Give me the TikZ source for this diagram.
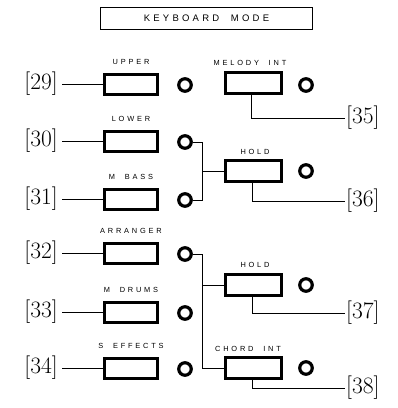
\documentclass[tikz,border=0pt]{standalone}
\usepackage{fontspec}
\newfontfamily\labfont[LetterSpace=38]{Liberation Sans}
\newfontfamily\ttlfont[LetterSpace=34]{Liberation Sans}
\begin{document}
\begin{tikzpicture}[x=1pt,y=-1pt,
  btn/.style={draw, line width=3pt, minimum width=53pt, minimum height=20pt, inner sep=0pt},
  rbtn/.style={draw, line width=3pt, minimum width=56pt, minimum height=21pt, inner sep=0pt},
  lamp/.style={circle, draw, line width=3.2pt, minimum size=12.5pt, inner sep=0pt},
  lbl/.style={font=\labfont\fontsize{7.4}{8}\selectfont, inner sep=0pt},
  num/.style={font=\fontsize{23.5}{24}\selectfont, inner ysep=1pt},
  conn/.style={line width=0.8pt}]
\useasboundingbox (0,0) rectangle (398,408);
% title
\node[draw, line width=1.4pt, minimum width=212pt, minimum height=22pt, inner sep=0pt,
      font=\ttlfont\fontsize{9.5}{10}\selectfont] (title) at (206.5,18.5) {KEYBOARD\ \ MODE};
% left column buttons
\foreach \nm/\yy/\tx [count=\i] in {29/84/UPPER, 30/141/LOWER, 31/199/{M\ \ BASS}, 32/253/ARRANGER, 33/312/{M\ \ DRUMS}, 34/368/{S\ \ EFFECTS}}{
  \node[btn] (b\nm) at (131,\yy) {};
  \node[lbl] (t\nm) at (131,\yy-22) {\tx};
  \node[lamp] (l\nm) at (185,\yy+1) {};
  \node[num, anchor=east, inner xsep=4pt] (n\nm) at (62,\yy) {[\nm]};
  \draw[conn] (n\nm.east) -- (b\nm.west);
}
% right column buttons
\node[rbtn] (b35) at (253,83) {};
\node[lbl] (t35) at (250,63) {MELODY\ \ INT};
\node[lamp] (l35) at (306,85) {};
\node[rbtn] (b36) at (253,171) {};
\node[lbl] (t36) at (255,152) {HOLD};
\node[lamp] (l36) at (306,171) {};
\node[rbtn] (b37) at (253,285) {};
\node[lbl] (t37) at (255,265) {HOLD};
\node[lamp] (l37) at (306,285) {};
\node[rbtn] (b38) at (253,368) {};
\node[lbl] (t38) at (248,349) {CHORD\ \ INT};
\node[lamp] (l38) at (306,368) {};
% right number labels
\node[num, anchor=west, inner xsep=1pt] (n35) at (345,118) {[35]};
\node[num, anchor=west, inner xsep=1pt] (n36) at (345,201) {[36]};
\node[num, anchor=west, inner xsep=1pt] (n37) at (345,313) {[37]};
\node[num, anchor=west, inner xsep=1pt] (n38) at (345,388) {[38]};
\draw[conn] ([xshift=-2pt]b35.south) |- (n35.west);
\draw[conn] ([xshift=-1pt]b36.south) |- (n36.west);
\draw[conn] ([xshift=-1pt]b37.south) |- (n37.west);
\draw[conn] ([xshift=-1pt]b38.south) |- (n38.west);
% brackets
\coordinate (j1) at (202,171);
\coordinate (j2) at (202,285);
\coordinate (j3) at (202,368);
\draw[conn] (l30.east) -| (j1);
\draw[conn] (l31.east) -| (j1);
\draw[conn] (j1) -- (b36.west);
\draw[conn] (l32.east) -| (j3) -- (b38.west);
\draw[conn] (j2) -- (b37.west);
\end{tikzpicture}
\end{document}
